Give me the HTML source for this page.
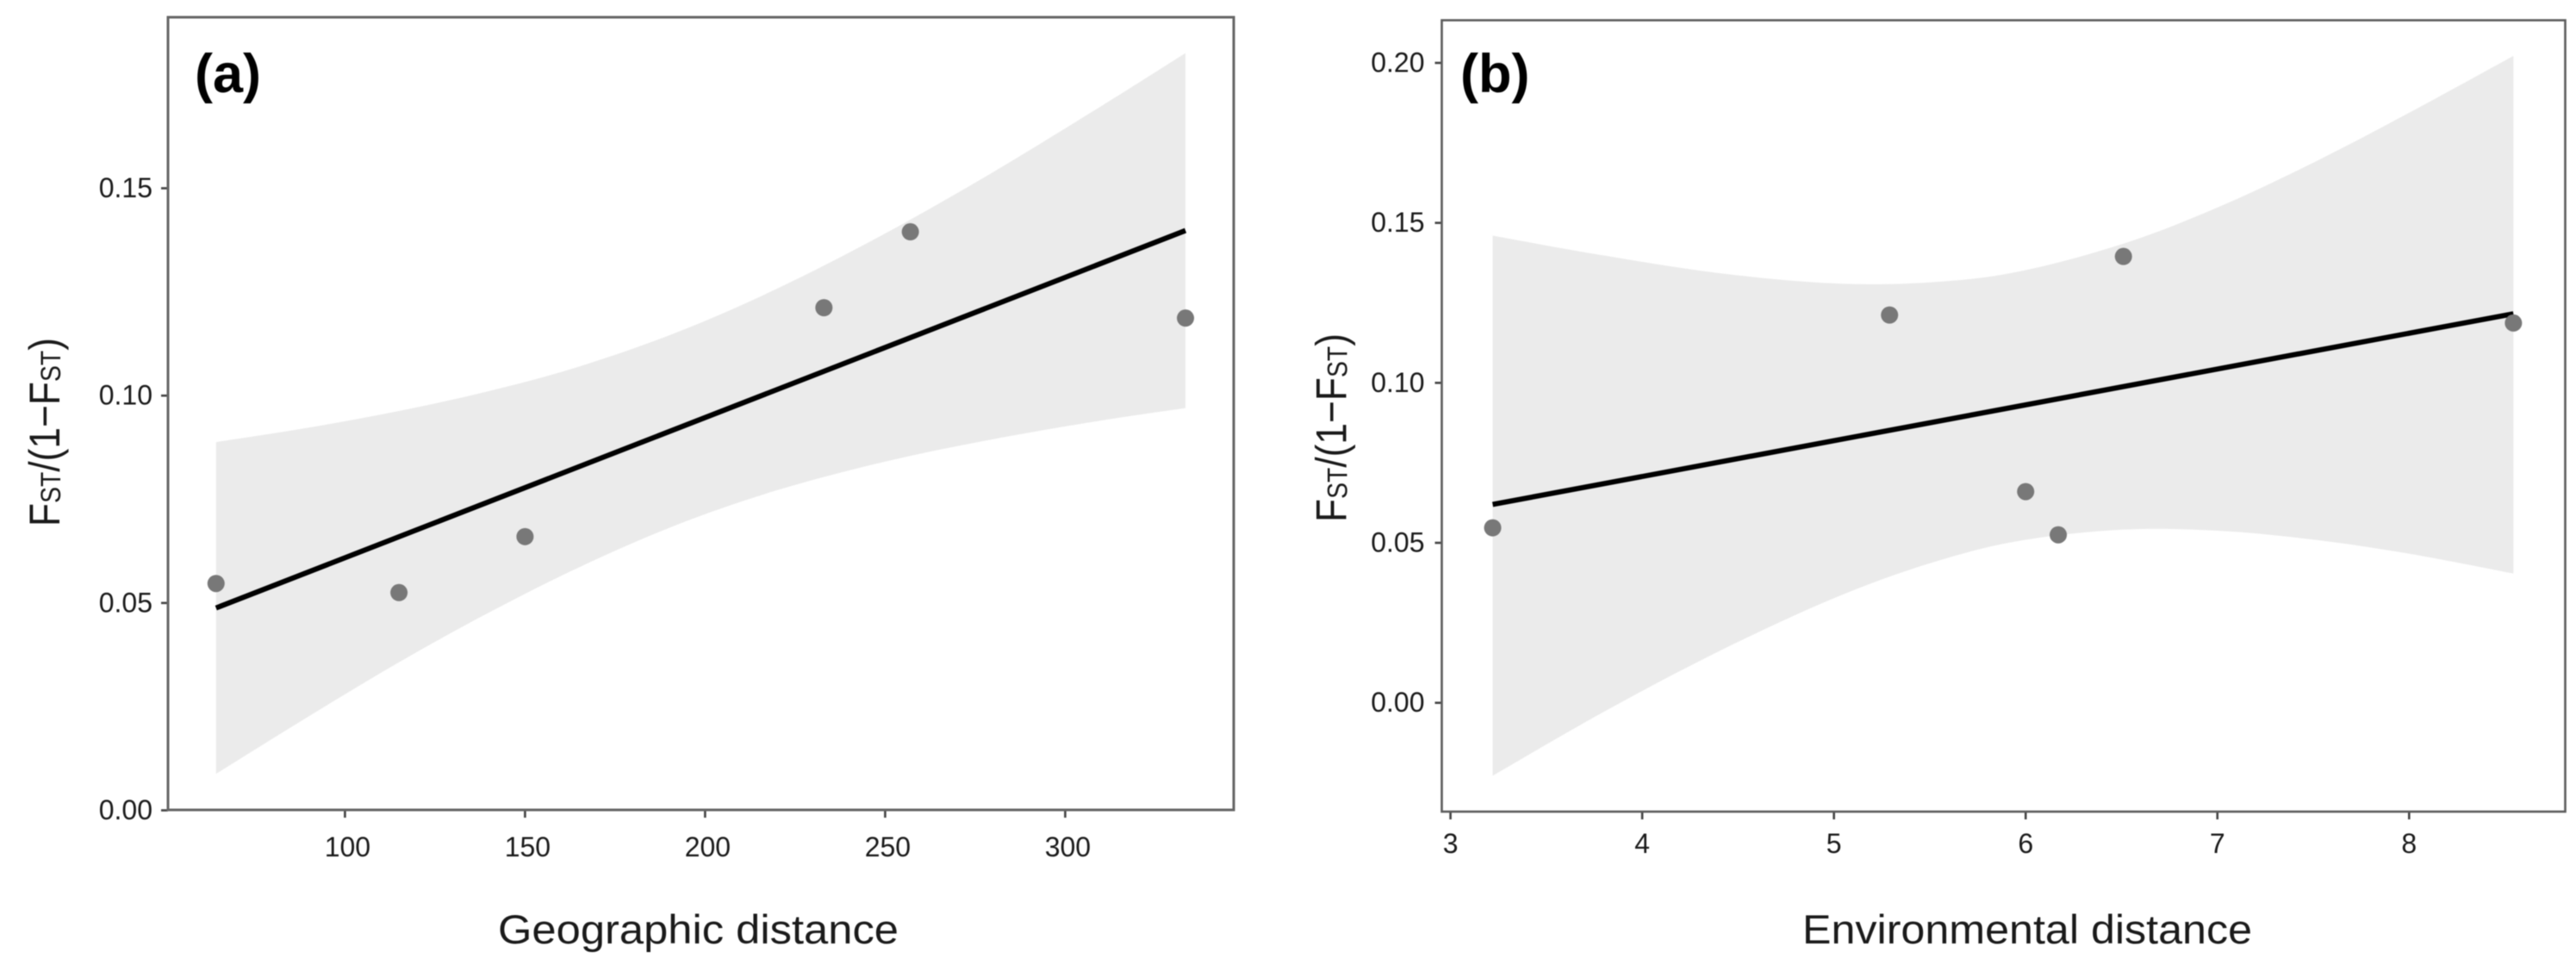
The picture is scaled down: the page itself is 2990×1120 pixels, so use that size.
<!DOCTYPE html>
<html lang="en">
<head>
<meta charset="utf-8">
<title>Genetic distance vs geographic and environmental distance</title>
<style>
html,body{margin:0;padding:0;background:#fff;width:2990px;height:1120px;overflow:hidden}
svg{display:block;filter:blur(.6px)}
text{font-family:"Liberation Sans",sans-serif;fill:#1a1a1a}
</style>
</head>
<body>
<svg id="chart" xmlns="http://www.w3.org/2000/svg" width="2990" height="1120" viewBox="0 0 2990 1120">
  <g id="panel-a"></g>
  <g id="panel-b"></g>
  <rect x="195" y="20" width="1237" height="920" fill="none" stroke="#666" stroke-width="3"/>
  <rect x="1673.5" y="23.5" width="1304" height="918.5" fill="none" stroke="#5c5c5c" stroke-width="2.6"/>
  <text x="226" y="107" font-size="63" font-weight="bold" style="fill:#000">(a)</text>
  <text x="1695" y="107" font-size="63" font-weight="bold" style="fill:#000">(b)</text>
  <text x="578" y="1095" font-size="47" textLength="465" lengthAdjust="spacingAndGlyphs">Geographic distance</text>
  <text x="2092" y="1095" font-size="47" textLength="522" lengthAdjust="spacingAndGlyphs">Environmental distance</text>
  <text transform="translate(69,611) rotate(-90)" font-size="50" textLength="219" lengthAdjust="spacingAndGlyphs">F<tspan font-size="32" dy="1">ST</tspan><tspan dy="-1">/(1−F</tspan><tspan font-size="32" dy="1">ST</tspan><tspan dy="-1">)</tspan></text>
  <text transform="translate(1562.5,606) rotate(-90)" font-size="50" textLength="219" lengthAdjust="spacingAndGlyphs">F<tspan font-size="32" dy="1">ST</tspan><tspan dy="-1">/(1−F</tspan><tspan font-size="32" dy="1">ST</tspan><tspan dy="-1">)</tspan></text>
</svg>
<script>
// Shared response values
var fstValues = [0.0547, 0.0525, 0.0660, 0.1212, 0.1395, 0.1187];

// Panel (a)
var geoDistance = [64.2, 115, 150, 233, 257, 333.4];
var geoFitX = [64.2, 333.4];
var geoFitY = [0.0488, 0.1398];
var geoBandX = [64.2, 90, 115, 140, 165, 192, 220, 250, 280, 310, 333.4];
var geoBandUpper = [0.0888, 0.0923, 0.0963, 0.1011, 0.1070, 0.1152, 0.1258, 0.1391, 0.1539, 0.1698, 0.1826];
var geoBandLower = [0.0088, 0.0227, 0.0357, 0.0477, 0.0586, 0.0688, 0.0772, 0.0841, 0.0895, 0.0940, 0.0970];
var geoXTicks = [100, 150, 200, 250, 300];
var geoYTicks = ["0.00", "0.05", "0.10", "0.15"];

// Panel (b)
var envDistance = [3.22, 6.17, 6.00, 5.29, 6.51, 8.544];
var envFitX = [3.22, 8.544];
var envFitY = [0.0620, 0.1216];
var envBandX = [3.22, 3.8, 4.4, 5, 5.5, 5.956, 6.5, 7, 7.5, 8, 8.544];
var envBandUpper = [0.1460, 0.1398, 0.1343, 0.1311, 0.1314, 0.1347, 0.1433, 0.1548, 0.1688, 0.1844, 0.2022];
var envBandLower = [-0.0228, -0.0028, 0.0161, 0.0327, 0.0436, 0.0505, 0.0541, 0.0538, 0.0510, 0.0466, 0.0404];
var envXTicks = [3, 4, 5, 6, 7, 8];
var envYTicks = ["0.00", "0.05", "0.10", "0.15", "0.20"];

var SVG_NS = "http://www.w3.org/2000/svg";

function linearScale(d0, d1, r0, r1) {
  return function (v) { return r0 + (v - d0) * (r1 - r0) / (d1 - d0); };
}

function make(parent, tag, attrs) {
  var el = document.createElementNS(SVG_NS, tag);
  for (var k in attrs) { el.setAttribute(k, attrs[k]); }
  parent.appendChild(el);
  return el;
}

// Smooth curve through points (Catmull-Rom converted to cubic Bezier segments)
function curveSegments(pts) {
  var d = "";
  for (var i = 0; i < pts.length - 1; i++) {
    var p0 = pts[Math.max(i - 1, 0)], p1 = pts[i], p2 = pts[i + 1], p3 = pts[Math.min(i + 2, pts.length - 1)];
    d += " C" + (p1[0] + (p2[0] - p0[0]) / 6).toFixed(2) + "," + (p1[1] + (p2[1] - p0[1]) / 6).toFixed(2) +
         " " + (p2[0] - (p3[0] - p1[0]) / 6).toFixed(2) + "," + (p2[1] - (p3[1] - p1[1]) / 6).toFixed(2) +
         " " + p2[0].toFixed(2) + "," + p2[1].toFixed(2);
  }
  return d;
}

function drawPanel(group, xs, ys, pointsX, pointsY, fitX, fitY, bandX, bandUp, bandLow, xTicks, yTicks, frame, xLabelShift) {
  var upper = bandX.map(function (v, i) { return [xs(v), ys(bandUp[i])]; });
  var lower = bandX.map(function (v, i) { return [xs(v), ys(bandLow[i])]; }).reverse();
  var bandD = "M" + upper[0][0].toFixed(2) + "," + upper[0][1].toFixed(2) + curveSegments(upper) +
              " L" + lower[0][0].toFixed(2) + "," + lower[0][1].toFixed(2) + curveSegments(lower) + " Z";
  var band = make(group, "path", { d: bandD, fill: "#ebebeb" });
  
  

  var fit = make(group, "line", {
    x1: xs(fitX[0]), y1: ys(fitY[0]), x2: xs(fitX[1]), y2: ys(fitY[1]),
    stroke: "#000", "stroke-width": 6
  });
  
  

  pointsX.forEach(function (v, i) {
    var dot = make(group, "circle", { cx: xs(v), cy: ys(pointsY[i]), r: 10, fill: "#787878" });
    
    
  });

  xTicks.forEach(function (v) {
    var tick = make(group, "line", {
      x1: xs(v), x2: xs(v), y1: frame.bottom, y2: frame.bottom + 9,
      stroke: "#444", "stroke-width": 2.6
    });
    
    
    var label = make(group, "text", {
      x: xs(v) + xLabelShift, y: frame.xLabelY, "font-size": 32, "text-anchor": "middle"
    });
    
    
    label.textContent = String(v);
  });

  yTicks.forEach(function (t) {
    var y = ys(parseFloat(t));
    var tick = make(group, "line", {
      x1: frame.left - 8, x2: frame.left, y1: y, y2: y,
      stroke: "#444", "stroke-width": 2.6
    });
    
    
    var label = make(group, "text", {
      x: frame.left - frame.labelGap, y: y + 10.5, "font-size": 32, "text-anchor": "end"
    });
    
    
    label.textContent = t;
  });
}

drawPanel(
  document.getElementById("panel-a"),
  linearScale(100, 150, 400.4, 609.4),
  linearScale(0, 0.15, 940.5, 218.5),
  geoDistance, fstValues, geoFitX, geoFitY, geoBandX, geoBandUpper, geoBandLower,
  geoXTicks, geoYTicks,
  { left: 195, bottom: 940, xLabelY: 994, labelGap: 18 }, 3
);

drawPanel(
  document.getElementById("panel-b"),
  linearScale(3, 8, 1683.6, 2796.3),
  linearScale(0, 0.2, 815.7, 73),
  envDistance, fstValues, envFitX, envFitY, envBandX, envBandUpper, envBandLower,
  envXTicks, envYTicks,
  { left: 1673.5, bottom: 942, xLabelY: 990, labelGap: 20 }, 0
);
</script>
</body>
</html>
